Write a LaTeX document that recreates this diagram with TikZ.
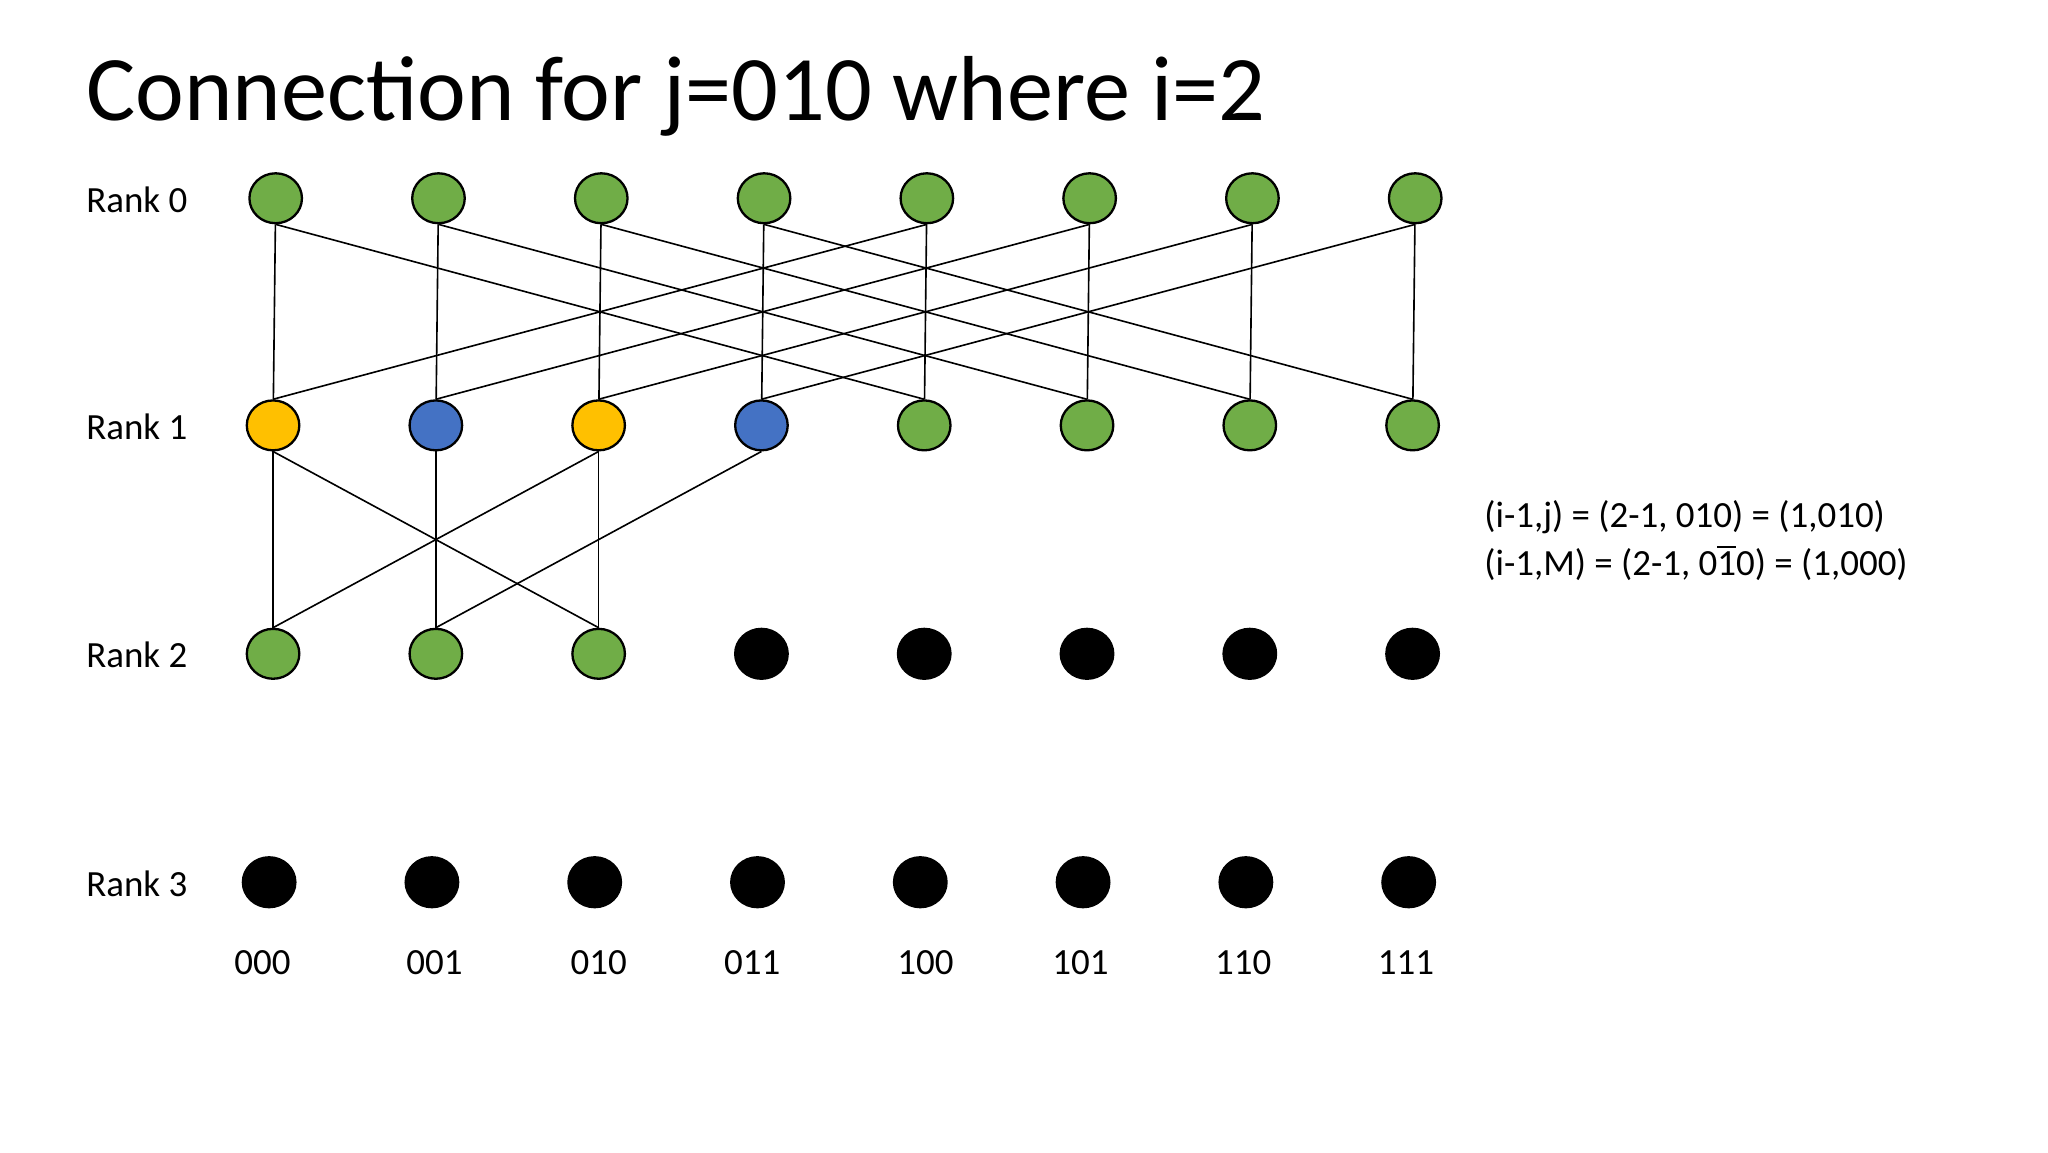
\documentclass[tikz,border=0pt]{standalone}
\usepackage{fontspec}
\setmainfont{Carlito}
\usetikzlibrary{shapes.geometric}
\begin{document}
\begin{tikzpicture}[x=0.01cm,y=-0.01cm,
  dot/.style={ellipse,draw=black,line width=0.5pt,minimum width=0.40cm,minimum height=0.38cm,inner sep=0pt},
  lbl/.style={font=\fontsize{8pt}{9.5pt}\selectfont,inner sep=0pt},
  ln/.style={line width=0.35pt}]
\useasboundingbox (0,0) rectangle (1560,877.5);
\definecolor{grn}{HTML}{70AD47}\definecolor{yel}{HTML}{FFC000}\definecolor{blu}{HTML}{4472C4}
\node[anchor=base west,inner sep=0pt,font=\fontsize{20pt}{24pt}\selectfont] (title) at (65,92) {Connection for j=010 where i=2};
\foreach \k/\y in {0/151,1/324,2/498,3/672}
  \node[lbl,anchor=west] (r\k) at (65,\y+1) {Rank \k};
\foreach \i/\x in {0/210,1/334,2/458,3/582,4/706,5/830,6/954,7/1078}
  \node[dot,fill=grn] (a\i) at (\x,151) {};
\foreach \i/\x/\c in {0/208/yel,1/332/blu,2/456/yel,3/580/blu,4/704/grn,5/828/grn,6/952/grn,7/1076/grn}
  \node[dot,fill=\c] (b\i) at (\x,324) {};
\foreach \i/\x/\c in {0/208/grn,1/332/grn,2/456/grn,3/580/black,4/704/black,5/828/black,6/952/black,7/1076/black}
  \node[dot,fill=\c] (c\i) at (\x,498) {};
\foreach \i/\x in {0/205,1/329,2/453,3/577,4/701,5/825,6/949,7/1073}
  \node[dot,fill=black] (d\i) at (\x,672) {};
\foreach \i/\x/\t in {0/200/000,1/331/001,2/456/010,3/573/011,4/705/100,5/823/101,6/947/110,7/1071/111}
  \node[lbl] (n\i) at (\x,733) {\t};
\foreach \i in {0,...,7} \draw[ln] (a\i) -- (b\i);
\foreach \i/\j in {0/4,1/5,2/6,3/7,4/0,5/1,6/2,7/3} \draw[ln] (a\i.south) -- (b\j.north);
\foreach \i/\j in {0/0,0/2,1/1,2/2,2/0,3/1} \draw[ln] (b\i.south) -- (c\j.north);
\node[lbl,anchor=base west] (f1) at (1130,402) {(i-1,j) = (2-1, 010) = (1,010)};
\node[lbl,anchor=base west] (f2) at (1130,438) {(i-1,M) = (2-1, 0\makebox[0pt][l]{\raisebox{0.74em}{\rule{0.5em}{0.45pt}}}10) = (1,000)};
\end{tikzpicture}
\end{document}
